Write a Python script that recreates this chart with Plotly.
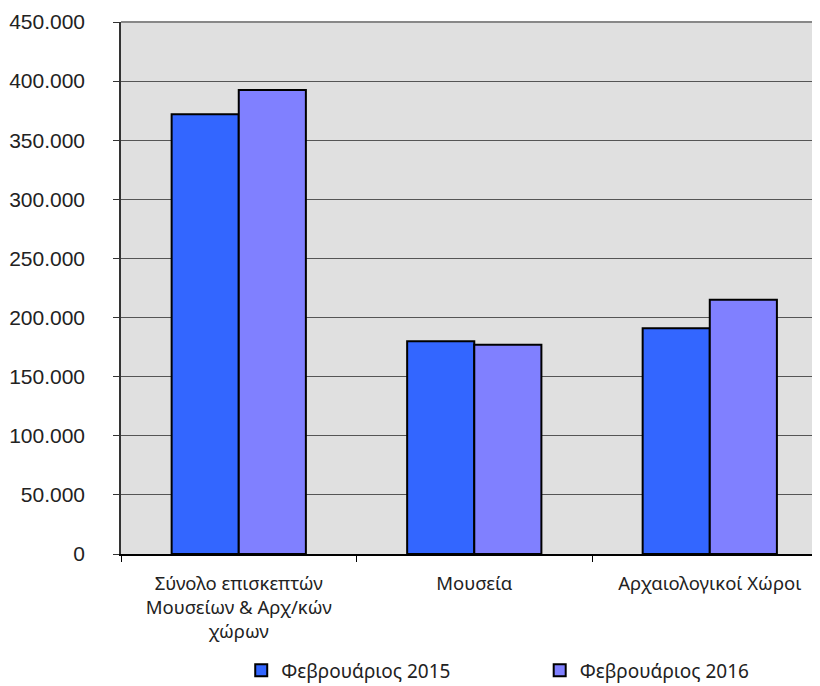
import plotly.graph_objects as go

categories = ["Σύνολο επισκεπτών<br>Μουσείων & Αρχ/κών<br>χώρων", "Μουσεία", "Αρχαιολογικοί Χώροι"]
series_names = ["Φεβρουάριος 2015", "Φεβρουάριος 2016"]
values_2015 = [372000, 180000, 191000]
values_2016 = [392500, 177000, 215000]
y_ticks = [0, 50000, 100000, 150000, 200000, 250000, 300000, 350000, 400000, 450000]

colors = ["#3366ff", "#8080ff"]
legend_ids = ["legend", "legend2"]

fig = go.Figure()
for name, vals, col, lg in zip(series_names, [values_2015, values_2016], colors, legend_ids):
    fig.add_trace(go.Bar(
        x=categories, y=vals, name=name, legend=lg,
        marker=dict(color=col, line=dict(color="#000000", width=2)),
    ))

legend_common = dict(
    orientation="h", yanchor="middle", xanchor="left", y=-0.219,
    font=dict(family="Noto Sans", size=19, color="#222222"),
    bgcolor="rgba(0,0,0,0)",
)

fig.update_layout(
    width=812, height=678,
    margin=dict(l=113, r=0, t=14, b=132, autoexpand=False),
    paper_bgcolor="#ffffff",
    plot_bgcolor="#e0e0e0",
    barmode="group",
    bargap=0.43,
    bargroupgap=0,
    separators=",.",
    font=dict(family="Liberation Sans, Arial", color="#222222"),
    showlegend=True,
    legend=dict(x=0.172, **legend_common),
    legend2=dict(x=0.599, **legend_common),
)

fig.update_xaxes(
    type="category",
    range=[-0.5, 2.468],
    automargin=False,
    showline=True, linecolor="#000000", linewidth=1.5,
    ticks="outside", tickson="boundaries", ticklen=6, tickcolor="#000000",
    tickfont=dict(family="Noto Sans", size=18.5, color="#222222"),
    ticklabelstandoff=12,
    showgrid=False,
)

fig.update_yaxes(
    range=[0, 450000],
    automargin=False,
    tickvals=y_ticks,
    tickformat=",.0f",
    showline=True, linecolor="#333333", linewidth=1.5,
    ticks="outside", ticklen=6, tickcolor="#333333",
    tickfont=dict(family="Liberation Sans, Arial", size=21, color="#222222"),
    ticklabelstandoff=24,
    showgrid=True, gridcolor="#555555", gridwidth=1,
    zeroline=False,
)

fig.add_shape(type="line", xref="paper", yref="paper", x0=0, x1=1, y0=1, y1=1,
              line=dict(color="#888888", width=2))

fig.write_html("out.html")
